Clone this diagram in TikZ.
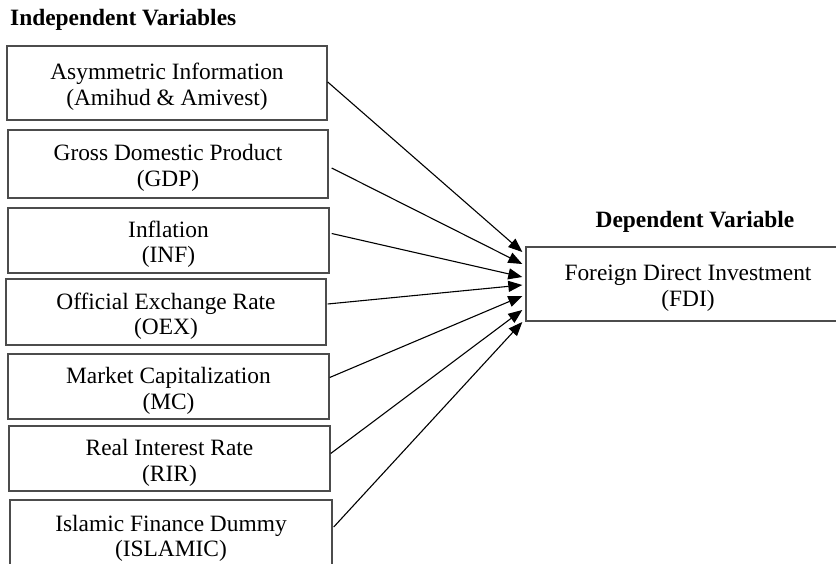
\documentclass[tikz,border=0pt]{standalone}
\usepackage{fontspec}
\setmainfont{Liberation Serif}
\usetikzlibrary{arrows.meta,calc}

\begin{document}
\begin{tikzpicture}[x=1pt, y=-1pt, >={Triangle[length=14pt,width=11pt]},
    varbox/.style={draw=black!70, line width=1.4pt, align=center, inner sep=0pt,
        text height=45pt, text depth=0pt, font=\fontsize{23.4}{25.5}\selectfont},
    heading/.style={font=\fontsize{23.4}{24}\selectfont\bfseries, inner sep=0pt},
    link/.style={->, line width=1.1pt}]

    % Page size (pixels of the reference)
    \useasboundingbox (0,0) rectangle (836,564);

    % Headings
    \node[heading, anchor=base west] (ihead) at (10,26) {Independent Variables};
    \node[heading, anchor=base] (dhead) at (695,228) {Dependent Variable};

    % Independent variables (left column)
    \node[varbox, minimum width=320, minimum height=74] (iv1) at (167,83)
        {Asymmetric Information\\(Amihud \& Amivest)};
    \node[varbox, minimum width=320, minimum height=68] (iv2) at (168,164)
        {Gross Domestic Product\\(GDP)};
    \node[varbox, minimum width=321, minimum height=65] (iv3) at (168.5,240.5)
        {Inflation\\(INF)};
    \node[varbox, minimum width=320, minimum height=66] (iv4) at (166,312)
        {Official Exchange Rate\\(OEX)};
    \node[varbox, minimum width=321, minimum height=65] (iv5) at (168.5,386.5)
        {Market Capitalization\\(MC)};
    \node[varbox, minimum width=321, minimum height=65] (iv6) at (169.5,458.5)
        {Real Interest Rate\\(RIR)};
    \node[varbox, minimum width=322, minimum height=68] (iv7) at (171,534)
        {Islamic Finance Dummy\\(ISLAMIC)};

    % Dependent variable
    \node[varbox, minimum width=324, minimum height=74] (fdi) at (688,284)
        {Foreign Direct Investment\\(FDI)};

    % Arrows into FDI
    \draw[link] ($(iv1.east)+(0,-1)$) -- ($(fdi.west)+(-3,-32)$);
    \draw[link] ($(iv2.east)+(3,4)$) -- ($(fdi.west)+(-3,-20)$);
    \draw[link] ($(iv3.east)+(2,-7)$) -- ($(fdi.west)+(-3,-7)$);
    \draw[link] ($(iv4.east)+(1,-8)$) -- ($(fdi.west)+(-3,1)$);
    \draw[link] ($(iv5.east)+(0,-9)$) -- ($(fdi.west)+(-3,12)$);
    \draw[link] ($(iv6.east)+(0,-5)$) -- ($(fdi.west)+(-3,26)$);
    \draw[link] ($(iv7.east)+(1,-7)$) -- ($(fdi.west)+(-3,38)$);

\end{tikzpicture}
\end{document}
